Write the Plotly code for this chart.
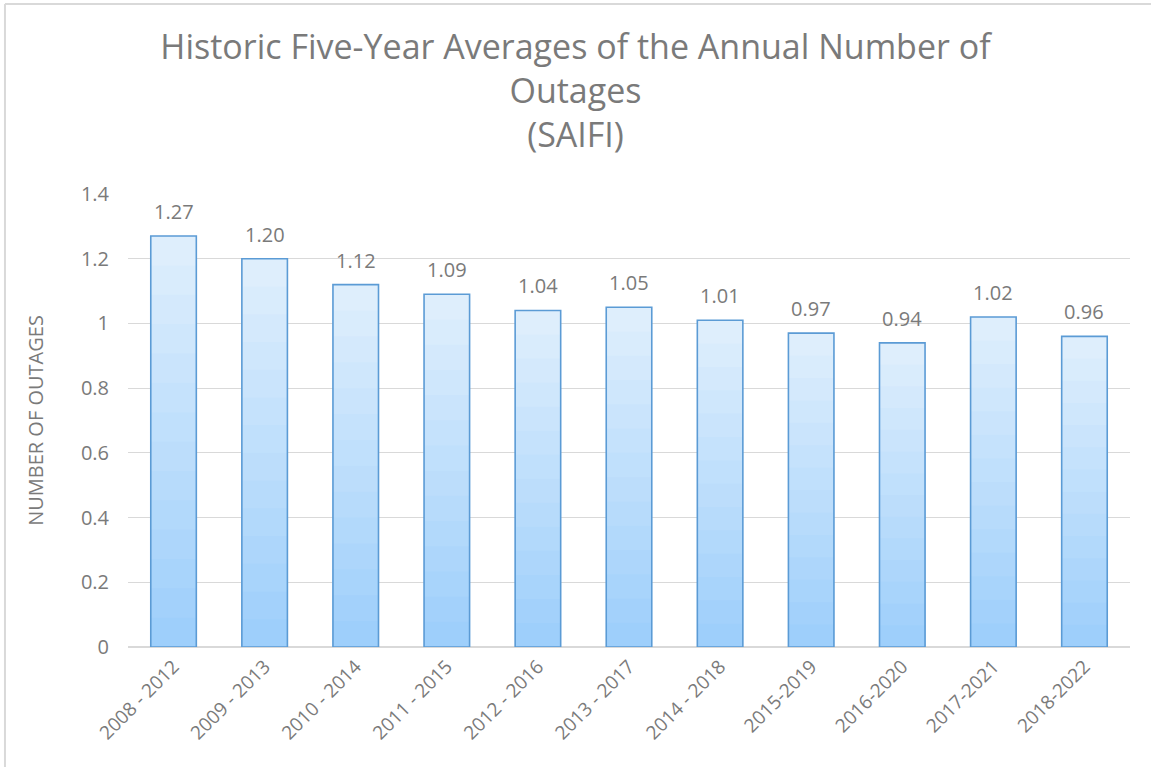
import plotly.graph_objects as go

periods = ["2008 - 2012", "2009 - 2013", "2010 - 2014", "2011 - 2015", "2012 - 2016",
           "2013 - 2017", "2014 - 2018", "2015-2019", "2016-2020", "2017-2021", "2018-2022"]
saifi = [1.27, 1.20, 1.12, 1.09, 1.04, 1.05, 1.01, 0.97, 0.94, 1.02, 0.96]

font = "Open Sans"
gray = "#7a7a7a"

fig = go.Figure()

# fake a vertical gradient: stacked overlay bars, light at the top, darker at the base
top = (222, 238, 252)
bottom = (158, 207, 251)
n = 14
for i in range(n):
    frac = 1 - i / n
    t = i / (n - 1)
    c = tuple(round(top[k] + (bottom[k] - top[k]) * t) for k in range(3))
    fig.add_trace(go.Bar(
        x=periods, y=[v * frac for v in saifi],
        marker=dict(color="rgb(%d,%d,%d)" % c, line=dict(width=0)),
        hoverinfo="skip", showlegend=False,
    ))

fig.add_trace(go.Bar(
    x=periods, y=saifi,
    marker=dict(color="rgba(0,0,0,0)", line=dict(color="#5b9bd5", width=1.6)),
    showlegend=False,
))

# value labels sit a bit higher above the bars than plotly's outside text
for p, v in zip(periods, saifi):
    fig.add_annotation(x=p, y=v, text="%.2f" % v, showarrow=False, yanchor="bottom", yshift=9,
                       font=dict(family=font, size=20, color=gray))

fig.update_layout(
    width=1151, height=767,
    barmode="overlay", bargap=0.5,
    plot_bgcolor="white", paper_bgcolor="white",
    margin=dict(l=128, r=21, t=194, b=120),
    title=dict(
        text="Historic Five-Year Averages of the Annual Number of<br>Outages<br>(SAIFI)",
        x=0.5, xanchor="center", y=0.923, yanchor="top",
        font=dict(family=font, size=34, color=gray),
    ),
    font=dict(family=font, color=gray),
)
fig.update_yaxes(
    range=[0, 1.4], dtick=0.2, showgrid=True, gridcolor="#d9d9d9", gridwidth=1,
    zeroline=True, zerolinecolor="#d9d9d9", showline=False,
    tickfont=dict(family=font, size=20, color=gray), ticklen=0, ticklabelstandoff=18,
    title=dict(text="NUMBER OF OUTAGES", font=dict(family=font, size=20, color=gray), standoff=31),
)
fig.update_xaxes(
    tickangle=-45, tickfont=dict(family=font, size=19, color=gray),
    showline=True, linecolor="#d9d9d9", showgrid=False,
)

# thin frame at the chart edge
fig.add_shape(type="line", xref="paper", yref="paper", x0=-0.1228, x1=1.03, y0=1.4194, y1=1.4194,
              line=dict(color="#d9d9d9", width=2))
fig.add_shape(type="line", xref="paper", yref="paper", x0=-0.1228, x1=-0.1228, y0=-0.27, y1=1.4194,
              line=dict(color="#d9d9d9", width=2))

# drop the default page margin so the figure sits at the window's corner
fig.write_html("out.html", config={"displayModeBar": False},
               post_script="document.body.style.margin='0';")
